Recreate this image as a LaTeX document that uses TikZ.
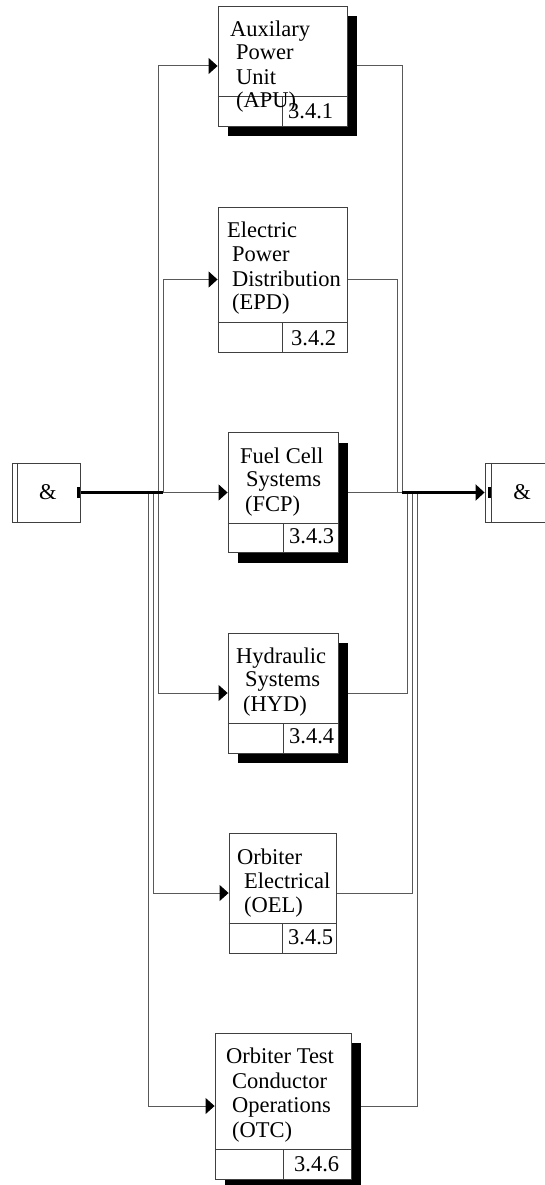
\documentclass[tikz,border=0pt]{standalone}
\usepackage{fontspec}
\setmainfont{Liberation Serif}
\usetikzlibrary{arrows.meta,shadows,backgrounds}
\begin{document}
\begin{tikzpicture}[x=1pt,y=-1pt,
  blk/.style={draw=black!75, line width=0.9pt, fill=white, inner sep=0pt},
  shd/.style={drop shadow={shadow xshift=10pt, shadow yshift=-10pt, fill=black, opacity=1}},
  bl/.style={draw=black!75, line width=0.9pt},
  conn/.style={draw=black!65, line width=1pt},
  heavy/.style={draw=black, line width=2.2pt},
  tip/.style={-{Triangle[length=9pt,width=16pt,color=black]}},
  lbl/.style={anchor=base west, inner sep=0pt, font=\fontsize{22.5}{24}\selectfont},
  amp/.style={anchor=center, inner sep=0pt, font=\fontsize{22.5}{24}\selectfont},
  tab/.style={fill=black, inner sep=0pt, minimum width=3.5pt, minimum height=11pt},
]
\useasboundingbox (0,0) rectangle (545,1185);

% junction boxes
\node[blk, minimum width=68pt, minimum height=59pt] (andL) at (46,492.5) {};
\draw[bl] ([xshift=6pt]andL.north west) -- ([xshift=6pt]andL.south west);
\node[tab, anchor=east] (tabL) at (andL.east) {};
\node[amp] (andLt) at (48,492) {\&};

\node[blk, minimum width=68pt, minimum height=59pt] (andR) at (519,492.5) {};
\draw[bl] ([xshift=7pt]andR.north west) -- ([xshift=7pt]andR.south west);
\node[tab, anchor=west] (tabR) at ([xshift=3pt]andR.west) {};
\node[amp] (andRt) at (522,492) {\&};

% function boxes
\node[blk, shd, minimum width=129pt, minimum height=120pt] (apu) at (282.5,66) {};
\node[blk, minimum width=129pt, minimum height=145pt] (epd) at (282.5,279.5) {};
\node[blk, shd, minimum width=110pt, minimum height=120pt] (fcp) at (283,492.5) {};
\node[blk, shd, minimum width=110pt, minimum height=120pt] (hyd) at (283,693) {};
\node[blk, minimum width=107pt, minimum height=120pt] (oel) at (282.5,893) {};
\node[blk, shd, minimum width=136pt, minimum height=146pt] (otc) at (283,1106) {};

\foreach \b in {apu,epd,fcp,hyd,oel,otc}{
  \draw[bl] ([yshift=30pt]\b.south west) -- ([yshift=30pt]\b.south east);
  \draw[bl] ([yshift=30pt]\b.south) -- (\b.south);
}

% labels
\node[lbl] (t1a) at (230,37) {Auxilary};
\node[lbl] (t1b) at (236,60) {Power};
\node[lbl] (t1c) at (236,85) {Unit};
\node[lbl] (t1d) at (236,108) {(APU)};
\node[lbl] (t1n) at (288,119) {3.4.1};

\node[lbl] (t2a) at (227,237) {Electric};
\node[lbl] (t2b) at (232,261) {Power};
\node[lbl] (t2c) at (232,286) {Distribution};
\node[lbl] (t2d) at (232,309) {(EPD)};
\node[lbl] (t2n) at (291,345) {3.4.2};

\node[lbl] (t3a) at (240,463) {Fuel Cell};
\node[lbl] (t3b) at (246,486) {Systems};
\node[lbl] (t3c) at (245,511) {(FCP)};
\node[lbl] (t3n) at (289,543) {3.4.3};

\node[lbl] (t4a) at (236,663) {Hydraulic};
\node[lbl] (t4b) at (245,686) {Systems};
\node[lbl] (t4c) at (243,711) {(HYD)};
\node[lbl] (t4n) at (289,743) {3.4.4};

\node[lbl] (t5a) at (237,864) {Orbiter};
\node[lbl] (t5b) at (244,888) {Electrical};
\node[lbl] (t5c) at (244,912) {(OEL)};
\node[lbl] (t5n) at (288,944) {3.4.5};

\node[lbl] (t6a) at (226,1063) {Orbiter Test};
\node[lbl] (t6b) at (232,1088) {Conductor};
\node[lbl] (t6c) at (232,1112) {Operations};
\node[lbl] (t6d) at (232,1137) {(OTC)};
\node[lbl] (t6n) at (294,1171) {3.4.6};

% junction coordinates
\coordinate (jA) at (163,492.5);
\coordinate (jB) at (158,492.5);
\coordinate (jC) at (153,492.5);
\coordinate (jD) at (148,492.5);
\coordinate (kA) at (402,492.5);
\coordinate (kB) at (397,492.5);
\coordinate (kC) at (407,492.5);
\coordinate (kD) at (412,492.5);
\coordinate (kE) at (417,492.5);

\begin{pgfonlayer}{background}
  \draw[conn, tip] (jB) |- (apu.west);
  \draw[conn, tip] (jA) |- (epd.west);
  \draw[conn, tip] (jA) -- (fcp.west);
  \draw[conn, tip] (jB) |- (hyd.west);
  \draw[conn, tip] (jC) |- (oel.west);
  \draw[conn, tip] (jD) |- (otc.west);
  \draw[conn] (apu.east) -| (kA);
  \draw[conn] (epd.east) -| (kB);
  \draw[conn] (fcp.east) -- (kA);
  \draw[conn] (hyd.east) -| (kC);
  \draw[conn] (oel.east) -| (kD);
  \draw[conn] (otc.east) -| (kE);
  \draw[heavy] (tabL.west) -- (jA);
  \draw[heavy, tip] (kA) -- (andR.west);
\end{pgfonlayer}
\end{tikzpicture}
\end{document}
